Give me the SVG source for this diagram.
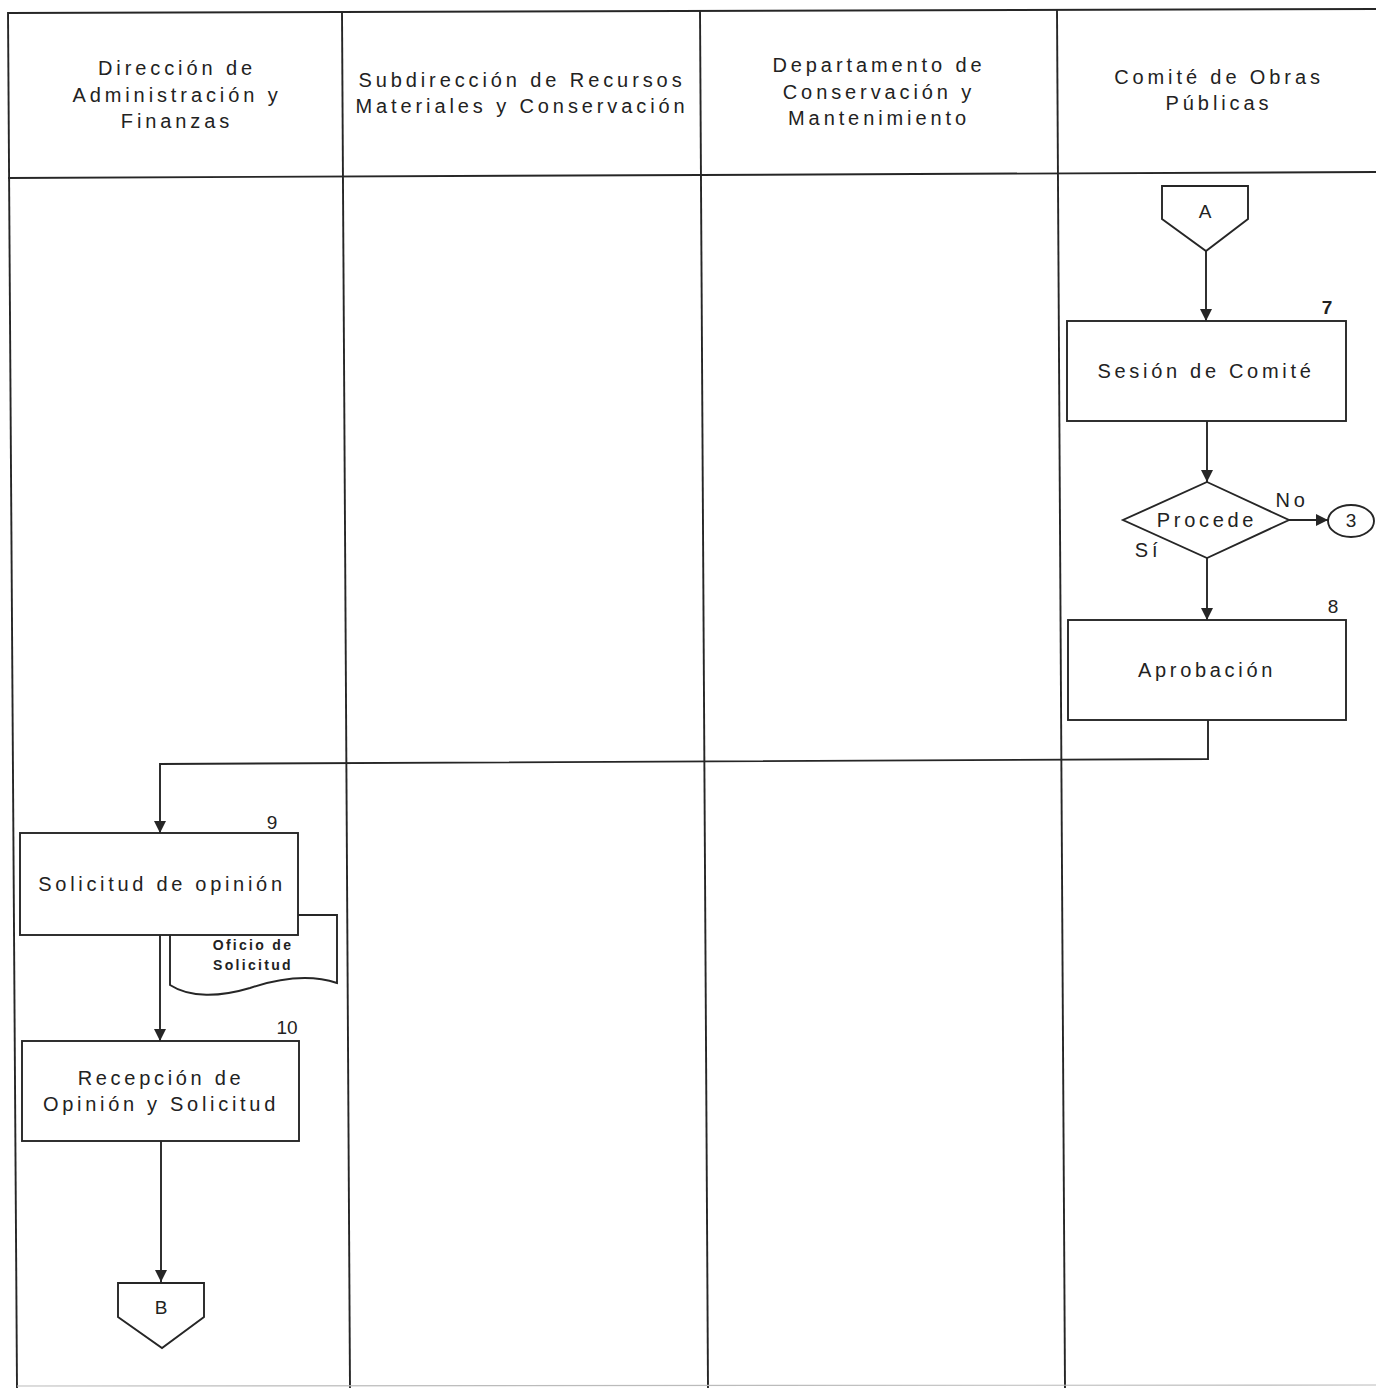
<svg xmlns="http://www.w3.org/2000/svg" width="1376" height="1388" viewBox="0 0 1376 1388">
<style>
  .ln{stroke:#262626;stroke-width:1.9;fill:none}
  .box{stroke:#262626;stroke-width:1.9;fill:#fff}
  .t{font-family:"Liberation Sans",Arial,sans-serif;font-size:20px;fill:#222;letter-spacing:3.7px;text-anchor:middle}
  .h{font-family:"Liberation Sans",Arial,sans-serif;font-size:20px;fill:#222;letter-spacing:3.9px;text-anchor:middle}
  .n{font-family:"Liberation Sans",Arial,sans-serif;font-size:19px;fill:#222;text-anchor:middle}
  .s{font-family:"Liberation Sans",Arial,sans-serif;font-size:14px;font-weight:bold;fill:#222;letter-spacing:2.3px;text-anchor:middle}
</style>
<defs>
  <marker id="ah" viewBox="0 0 12 12" refX="12" refY="6" markerWidth="12" markerHeight="12" markerUnits="userSpaceOnUse" orient="auto">
    <path d="M0,0 L12,6 L0,12 Z" fill="#262626"/>
  </marker>
</defs>
<rect width="1376" height="1388" fill="#fff"/>
<g id="lanes">
  <line class="ln" x1="8" y1="13" x2="1376" y2="9"/>
  <line class="ln" x1="8" y1="178" x2="1376" y2="172"/>
  <line class="ln" x1="8" y1="12" x2="17" y2="1388"/>
  <line class="ln" x1="342" y1="12" x2="350" y2="1388"/>
  <line class="ln" x1="700" y1="10" x2="708" y2="1388"/>
  <line class="ln" x1="1057" y1="10" x2="1065" y2="1388"/>
  <line x1="17" y1="1386" x2="1376" y2="1385" stroke="#bbb" stroke-width="1.2"/>
  <text class="h" x="177" y="75">Dirección de</text>
  <text class="h" x="177" y="102">Administración y</text>
  <text class="h" x="177" y="128">Finanzas</text>
  <text class="h" x="522" y="87">Subdirección de Recursos</text>
  <text class="h" x="522" y="113">Materiales y Conservación</text>
  <text class="h" x="879" y="72">Departamento de</text>
  <text class="h" x="879" y="99">Conservación y</text>
  <text class="h" x="879" y="125">Mantenimiento</text>
  <text class="h" x="1219" y="84">Comité de Obras</text>
  <text class="h" x="1219" y="110">Públicas</text>
</g>
<g id="connectors">
  <line class="ln" x1="1206" y1="251" x2="1206" y2="321" marker-end="url(#ah)"/>
  <line class="ln" x1="1207" y1="421" x2="1207" y2="482" marker-end="url(#ah)"/>
  <line class="ln" x1="1289" y1="520" x2="1328" y2="520" marker-end="url(#ah)"/>
  <line class="ln" x1="1207" y1="558" x2="1207" y2="620" marker-end="url(#ah)"/>
  <polyline class="ln" points="1208,720 1208,759 160,764 160,833" marker-end="url(#ah)"/>
  <line class="ln" x1="160" y1="935" x2="160" y2="1041" marker-end="url(#ah)"/>
  <line class="ln" x1="161" y1="1141" x2="161" y2="1282" marker-end="url(#ah)"/>
  <text class="t" x="1292" y="507">No</text>
  <text class="t" x="1148" y="557">Sí</text>
</g>
<g id="node-A">
  <polygon class="box" points="1162,186 1248,186 1248,219 1206,251 1162,219"/>
  <text class="n" x="1205" y="218" font-size="18">A</text>
</g>
<g id="node-7">
  <rect class="box" x="1067" y="321" width="279" height="100"/>
  <text class="n" x="1327" y="314" font-weight="bold">7</text>
  <text class="t" x="1206" y="378">Sesión de Comité</text>
</g>
<g id="node-procede">
  <polygon class="box" points="1207,482 1289,520 1207,558 1123,520"/>
  <text class="t" x="1207" y="527">Procede</text>
</g>
<g id="node-3">
  <ellipse class="box" cx="1351" cy="521" rx="23" ry="16"/>
  <text class="n" x="1351" y="527">3</text>
</g>
<g id="node-8">
  <rect class="box" x="1068" y="620" width="278" height="100"/>
  <text class="n" x="1333" y="613">8</text>
  <text class="t" x="1207" y="677">Aprobación</text>
</g>
<g id="node-doc">
  <path class="box" d="M170,915 L337,915 L337,983 C310,974 280,978 250,988 C220,997 190,998 170,985 Z"/>
  <text class="s" x="253" y="950">Oficio de</text>
  <text class="s" x="253" y="970">Solicitud</text>
</g>
<g id="node-9">
  <rect class="box" x="20" y="833" width="278" height="102"/>
  <text class="n" x="272" y="829">9</text>
  <text class="t" x="162" y="891">Solicitud de opinión</text>
</g>
<g id="node-10">
  <rect class="box" x="22" y="1041" width="277" height="100"/>
  <text class="n" x="287" y="1034">10</text>
  <text class="t" x="161" y="1085">Recepción de</text>
  <text class="t" x="161" y="1111">Opinión y Solicitud</text>
</g>
<g id="node-B">
  <polygon class="box" points="118,1283 204,1283 204,1317 162,1348 118,1317"/>
  <text class="n" x="161" y="1314" font-size="18">B</text>
</g>
</svg>
